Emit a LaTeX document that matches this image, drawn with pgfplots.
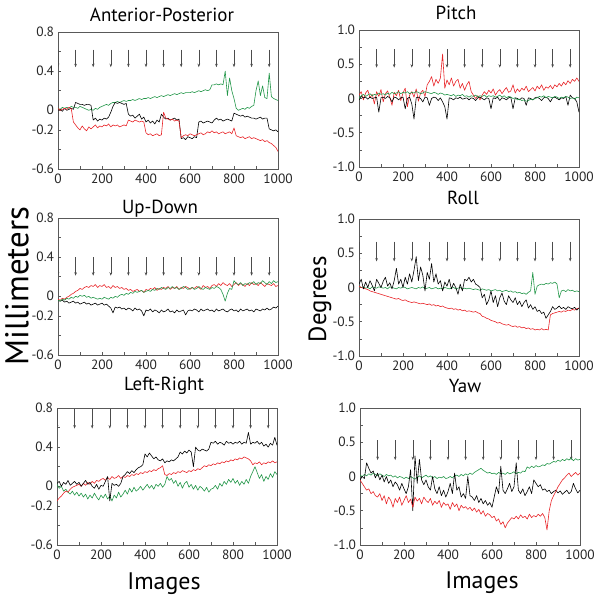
\documentclass[border=0pt]{standalone}
\usepackage{pgfplots}
\usepackage{pgfplotstable}
\pgfplotsset{compat=1.18}
\usepackage{fontspec}
\setmainfont{PT Sans}
\usetikzlibrary{arrows.meta}
\definecolor{cred}{RGB}{232,36,40}
\definecolor{cgreen}{RGB}{34,150,72}

% ---------- Anterior-Posterior ----------
\pgfplotstableread[row sep=\\]{y\\0.02\\0.01\\0.03\\0.02\\0.03\\0.02\\0.04\\0.03\\0.03\\0.02\\0.04\\0.03\\0.02\\0.01\\0.00\\0.01\\0.00\\0.02\\0.01\\0.03\\0.04\\0.05\\0.06\\0.05\\0.07\\0.08\\0.08\\0.09\\0.08\\0.09\\0.10\\0.09\\0.10\\0.10\\0.11\\0.10\\0.11\\0.12\\0.11\\0.12\\0.12\\0.13\\0.12\\0.13\\0.14\\0.13\\0.14\\0.15\\0.14\\0.15\\0.16\\0.15\\0.16\\0.17\\0.16\\0.17\\0.18\\0.17\\0.18\\0.18\\0.18\\0.19\\0.18\\0.19\\0.20\\0.19\\0.20\\0.21\\0.20\\0.21\\0.26\\0.26\\0.27\\0.26\\0.27\\0.26\\0.40\\0.15\\0.33\\0.20\\0.12\\0.02\\0.00\\0.01\\0.02\\0.01\\0.03\\0.02\\0.04\\0.05\\0.20\\0.30\\0.15\\0.25\\0.13\\0.12\\0.38\\0.14\\0.12\\0.11\\0.10\\}\APg
\pgfplotstableread[row sep=\\]{y\\0.00\\0.01\\-0.01\\0.02\\0.00\\0.01\\0.02\\0.01\\0.08\\0.07\\0.06\\0.06\\0.05\\0.06\\0.06\\0.05\\-0.10\\-0.08\\-0.11\\-0.09\\-0.10\\-0.08\\-0.09\\-0.07\\-0.02\\0.04\\0.08\\0.07\\0.08\\0.07\\0.06\\0.07\\-0.04\\-0.06\\-0.05\\-0.08\\-0.06\\-0.04\\-0.09\\-0.07\\-0.12\\-0.10\\-0.13\\-0.11\\-0.14\\-0.10\\-0.12\\-0.04\\-0.07\\-0.09\\-0.08\\-0.10\\-0.09\\-0.08\\-0.10\\-0.09\\-0.29\\-0.28\\-0.30\\-0.27\\-0.28\\-0.29\\-0.27\\-0.28\\-0.12\\-0.11\\-0.13\\-0.12\\-0.11\\-0.12\\-0.13\\-0.10\\-0.08\\-0.10\\-0.09\\-0.11\\-0.10\\-0.09\\-0.10\\-0.11\\-0.03\\-0.04\\-0.05\\-0.06\\-0.05\\-0.07\\-0.06\\-0.07\\-0.08\\-0.08\\-0.09\\-0.08\\-0.07\\-0.09\\-0.08\\-0.08\\-0.19\\-0.20\\-0.21\\-0.20\\-0.22\\}\APk
\pgfplotstableread[row sep=\\]{y\\0.02\\0.00\\0.01\\0.02\\0.01\\0.03\\0.02\\-0.12\\-0.15\\-0.18\\-0.20\\-0.16\\-0.19\\-0.21\\-0.17\\-0.19\\-0.17\\-0.15\\-0.18\\-0.16\\-0.17\\-0.15\\-0.16\\-0.14\\-0.17\\-0.15\\-0.16\\-0.15\\-0.17\\-0.16\\-0.15\\-0.16\\-0.10\\-0.11\\-0.12\\-0.10\\-0.11\\-0.12\\-0.11\\-0.12\\-0.23\\-0.25\\-0.24\\-0.26\\-0.25\\-0.24\\-0.26\\-0.25\\-0.02\\-0.08\\-0.09\\-0.10\\-0.09\\-0.11\\-0.10\\-0.11\\-0.28\\-0.26\\-0.25\\-0.26\\-0.24\\-0.25\\-0.26\\-0.25\\-0.24\\-0.23\\-0.25\\-0.24\\-0.22\\-0.23\\-0.21\\-0.23\\-0.22\\-0.24\\-0.23\\-0.22\\-0.24\\-0.23\\-0.22\\-0.24\\-0.18\\-0.26\\-0.27\\-0.28\\-0.27\\-0.29\\-0.28\\-0.27\\-0.29\\-0.28\\-0.29\\-0.30\\-0.31\\-0.30\\-0.32\\-0.31\\-0.33\\-0.34\\-0.36\\-0.38\\-0.42\\}\APr
% ---------- Pitch ----------
\pgfplotstableread[row sep=\\]{y\\0.00\\0.04\\0.06\\0.03\\0.05\\0.07\\0.04\\0.06\\0.05\\0.08\\0.06\\0.07\\0.05\\0.08\\0.06\\0.09\\0.07\\0.08\\0.10\\0.07\\0.09\\0.08\\0.10\\0.07\\0.09\\0.08\\0.10\\0.09\\0.07\\0.08\\0.10\\0.09\\0.08\\0.07\\0.09\\0.08\\0.06\\0.08\\0.07\\0.05\\0.06\\0.05\\0.04\\0.06\\0.03\\0.05\\0.04\\0.06\\0.03\\0.04\\0.02\\0.04\\0.03\\0.05\\0.02\\0.04\\0.03\\0.05\\0.02\\0.04\\0.03\\0.04\\0.02\\0.03\\0.05\\0.02\\0.04\\0.01\\0.03\\0.02\\0.00\\0.01\\-0.02\\-0.01\\-0.03\\-0.02\\-0.04\\-0.03\\-0.01\\-0.02\\0.00\\0.01\\0.03\\0.02\\0.04\\0.01\\0.03\\0.02\\0.01\\0.03\\0.02\\0.00\\0.02\\0.01\\0.03\\0.02\\0.00\\0.01\\-0.01\\0.02\\0.01\\}\PIg
\pgfplotstableread[row sep=\\]{y\\-0.02\\0.03\\0.01\\0.02\\-0.01\\0.02\\0.00\\0.01\\0.02\\-0.20\\0.01\\0.02\\0.00\\0.03\\0.01\\-0.05\\0.02\\0.01\\-0.02\\0.01\\0.02\\-0.15\\0.00\\0.02\\-0.08\\-0.30\\0.01\\0.02\\0.00\\-0.05\\0.02\\0.01\\-0.10\\0.00\\0.02\\0.01\\-0.03\\0.01\\-0.05\\-0.12\\-0.30\\0.01\\0.00\\-0.02\\0.01\\0.00\\0.02\\-0.01\\0.00\\0.01\\-0.02\\0.01\\0.00\\-0.03\\0.01\\0.02\\0.00\\-0.02\\0.01\\0.00\\-0.15\\0.01\\0.00\\0.02\\-0.03\\0.01\\0.00\\-0.02\\0.01\\0.02\\-0.15\\0.01\\0.00\\-0.02\\0.01\\0.00\\-0.10\\0.01\\0.00\\-0.02\\0.01\\0.02\\0.00\\-0.03\\0.01\\0.02\\0.00\\-0.05\\0.01\\0.02\\0.00\\-0.02\\0.01\\0.00\\0.03\\-0.10\\0.05\\0.01\\0.00\\-0.05\\-0.20\\}\PIk
\pgfplotstableread[row sep=\\]{y\\0.05\\0.10\\-0.02\\0.08\\0.12\\0.01\\0.06\\-0.08\\0.10\\0.03\\0.13\\-0.05\\0.07\\0.11\\0.02\\-0.10\\0.09\\0.04\\0.12\\-0.03\\0.08\\0.15\\-0.12\\0.05\\0.10\\0.02\\0.14\\-0.04\\0.08\\0.12\\0.03\\0.20\\0.25\\0.32\\0.18\\0.28\\0.22\\0.30\\0.65\\0.15\\0.27\\0.20\\0.30\\0.18\\0.25\\0.28\\0.15\\0.22\\0.12\\0.20\\0.25\\0.10\\0.05\\0.00\\0.04\\-0.02\\0.05\\0.10\\0.06\\0.12\\0.08\\0.14\\0.05\\0.10\\0.13\\0.07\\0.12\\0.16\\0.09\\0.11\\0.20\\0.08\\0.14\\0.10\\0.15\\0.12\\0.18\\0.10\\0.13\\0.16\\0.11\\0.18\\0.14\\0.20\\0.12\\0.17\\0.15\\0.19\\0.14\\0.20\\0.17\\0.22\\0.18\\0.24\\0.20\\0.26\\0.22\\0.28\\0.25\\0.30\\0.25\\}\PIr
% ---------- Up-Down ----------
\pgfplotstableread[row sep=\\]{y\\-0.03\\-0.04\\-0.02\\-0.03\\-0.01\\0.00\\0.02\\0.03\\0.05\\0.06\\0.08\\0.07\\0.09\\0.10\\0.09\\0.11\\0.10\\0.12\\0.09\\0.11\\0.10\\0.12\\0.09\\0.10\\0.08\\0.11\\0.09\\0.10\\0.08\\0.09\\0.07\\0.08\\0.06\\0.07\\0.05\\0.06\\0.07\\0.05\\0.06\\0.04\\0.07\\0.06\\0.08\\0.07\\0.09\\0.06\\0.08\\0.07\\0.09\\0.08\\0.10\\0.07\\0.09\\0.08\\0.10\\0.07\\0.09\\0.08\\0.10\\0.09\\0.07\\0.09\\0.08\\0.10\\0.09\\0.07\\0.11\\0.09\\0.10\\0.08\\0.11\\0.12\\0.10\\0.13\\0.11\\0.14\\0.12\\0.11\\0.13\\0.10\\0.12\\0.14\\0.11\\0.13\\0.12\\0.10\\0.13\\0.11\\0.14\\0.12\\0.13\\0.11\\0.14\\0.12\\0.10\\0.13\\0.12\\0.11\\0.13\\0.10\\0.11\\}\UDr
\pgfplotstableread[row sep=\\]{y\\-0.04\\-0.05\\-0.03\\-0.04\\-0.02\\-0.03\\-0.01\\-0.02\\0.00\\-0.01\\0.01\\0.00\\0.01\\-0.01\\0.00\\-0.02\\-0.01\\-0.02\\-0.03\\-0.02\\-0.03\\-0.01\\-0.02\\-0.03\\-0.01\\-0.02\\0.00\\-0.01\\0.01\\0.02\\0.01\\0.03\\0.02\\0.04\\0.03\\0.05\\0.04\\0.05\\0.06\\0.04\\0.05\\0.06\\0.05\\0.07\\0.06\\0.08\\0.07\\0.09\\0.08\\0.07\\0.09\\0.08\\0.10\\0.08\\0.09\\0.07\\0.08\\0.10\\0.09\\0.07\\0.08\\0.09\\0.07\\0.08\\0.10\\0.08\\0.07\\0.09\\0.08\\0.07\\0.09\\0.08\\0.10\\0.09\\0.07\\0.02\\-0.05\\0.03\\0.08\\0.07\\0.16\\0.13\\0.12\\0.14\\0.11\\0.13\\0.12\\0.14\\0.13\\0.15\\0.12\\0.14\\0.13\\0.16\\0.14\\0.12\\0.15\\0.13\\0.16\\0.14\\0.15\\}\UDg
\pgfplotstableread[row sep=\\]{y\\-0.04\\-0.05\\-0.04\\-0.06\\-0.05\\-0.07\\-0.06\\-0.05\\-0.07\\-0.06\\-0.08\\-0.07\\-0.06\\-0.08\\-0.07\\-0.09\\-0.08\\-0.07\\-0.09\\-0.08\\-0.07\\-0.09\\-0.08\\-0.10\\-0.12\\-0.17\\-0.11\\-0.12\\-0.11\\-0.13\\-0.12\\-0.14\\-0.12\\-0.13\\-0.15\\-0.12\\-0.14\\-0.13\\-0.15\\-0.20\\-0.14\\-0.15\\-0.13\\-0.16\\-0.14\\-0.15\\-0.17\\-0.14\\-0.16\\-0.15\\-0.13\\-0.16\\-0.15\\-0.17\\-0.14\\-0.16\\-0.15\\-0.14\\-0.19\\-0.15\\-0.14\\-0.15\\-0.13\\-0.14\\-0.16\\-0.13\\-0.15\\-0.14\\-0.13\\-0.15\\-0.14\\-0.16\\-0.13\\-0.15\\-0.14\\-0.13\\-0.15\\-0.16\\-0.14\\-0.13\\-0.15\\-0.14\\-0.16\\-0.13\\-0.15\\-0.14\\-0.13\\-0.15\\-0.14\\-0.16\\-0.13\\-0.14\\-0.15\\-0.13\\-0.14\\-0.12\\-0.14\\-0.13\\-0.11\\-0.12\\-0.10\\}\UDk
% ---------- Roll ----------
\pgfplotstableread[row sep=\\]{y\\0.02\\0.00\\0.01\\-0.01\\0.00\\-0.02\\0.01\\0.00\\-0.01\\0.01\\0.00\\-0.01\\0.00\\-0.02\\0.01\\0.00\\-0.01\\-0.02\\0.00\\-0.01\\0.01\\0.00\\-0.02\\-0.01\\0.00\\-0.01\\-0.02\\0.00\\-0.01\\0.01\\-0.02\\-0.01\\0.00\\-0.02\\-0.01\\0.00\\-0.02\\-0.01\\-0.02\\0.00\\-0.01\\-0.02\\-0.01\\0.00\\-0.02\\-0.01\\0.00\\-0.02\\-0.01\\-0.02\\-0.01\\-0.02\\-0.03\\-0.02\\-0.03\\-0.04\\-0.02\\-0.03\\-0.04\\-0.03\\-0.05\\-0.04\\-0.03\\-0.05\\-0.04\\-0.06\\-0.05\\-0.04\\-0.06\\-0.05\\-0.07\\-0.06\\-0.08\\-0.07\\-0.09\\-0.08\\-0.10\\-0.07\\-0.05\\0.22\\-0.10\\0.02\\0.04\\0.05\\0.04\\0.06\\0.05\\0.07\\0.06\\0.08\\0.05\\-0.15\\-0.05\\-0.04\\-0.06\\-0.03\\-0.05\\-0.04\\-0.06\\-0.05\\-0.06\\}\ROg
\pgfplotstableread[row sep=\\]{y\\0.02\\0.00\\-0.01\\-0.02\\-0.03\\-0.05\\-0.06\\-0.07\\-0.08\\-0.09\\-0.10\\-0.11\\-0.12\\-0.13\\-0.14\\-0.15\\-0.16\\-0.17\\-0.16\\-0.18\\-0.19\\-0.18\\-0.20\\-0.21\\-0.22\\-0.21\\-0.22\\-0.23\\-0.24\\-0.23\\-0.24\\-0.25\\-0.24\\-0.26\\-0.25\\-0.27\\-0.26\\-0.28\\-0.27\\-0.29\\-0.30\\-0.31\\-0.30\\-0.32\\-0.31\\-0.33\\-0.32\\-0.34\\-0.33\\-0.35\\-0.34\\-0.35\\-0.36\\-0.35\\-0.37\\-0.38\\-0.42\\-0.43\\-0.45\\-0.46\\-0.48\\-0.49\\-0.50\\-0.52\\-0.51\\-0.53\\-0.54\\-0.55\\-0.54\\-0.56\\-0.57\\-0.56\\-0.58\\-0.57\\-0.59\\-0.58\\-0.60\\-0.59\\-0.61\\-0.60\\-0.62\\-0.61\\-0.62\\-0.60\\-0.62\\-0.61\\-0.62\\-0.40\\-0.38\\-0.37\\-0.36\\-0.35\\-0.36\\-0.34\\-0.35\\-0.33\\-0.34\\-0.32\\-0.33\\-0.31\\-0.30\\}\ROr
\pgfplotstableread[row sep=\\]{y\\0.05\\0.12\\-0.02\\0.08\\0.00\\0.10\\0.03\\-0.05\\0.12\\0.06\\0.00\\0.09\\0.15\\0.02\\0.07\\-0.02\\0.10\\0.28\\0.05\\0.12\\0.00\\0.15\\0.05\\0.20\\0.08\\0.25\\0.45\\0.10\\0.30\\0.18\\-0.05\\0.22\\0.12\\0.35\\0.08\\0.20\\0.05\\0.10\\-0.05\\0.08\\0.02\\0.12\\-0.02\\0.06\\0.00\\-0.10\\0.05\\-0.05\\0.12\\0.10\\0.15\\0.08\\0.12\\0.05\\0.03\\0.00\\-0.15\\-0.10\\-0.25\\-0.18\\-0.05\\-0.22\\-0.12\\-0.28\\-0.15\\-0.08\\-0.20\\-0.25\\-0.12\\-0.18\\-0.22\\-0.15\\-0.25\\-0.20\\-0.28\\-0.22\\-0.18\\-0.30\\-0.25\\-0.32\\-0.28\\-0.35\\-0.33\\-0.38\\-0.36\\-0.45\\-0.40\\-0.35\\-0.28\\-0.32\\-0.30\\-0.27\\-0.31\\-0.29\\-0.32\\-0.28\\-0.30\\-0.31\\-0.29\\-0.33\\-0.30\\}\ROk
% ---------- Left-Right ----------
\pgfplotstableread[row sep=\\]{y\\0.03\\0.05\\0.00\\0.04\\0.02\\0.06\\0.01\\0.03\\0.05\\0.02\\0.04\\0.00\\0.03\\0.06\\0.02\\0.04\\0.00\\-0.02\\0.02\\-0.03\\0.01\\0.00\\0.05\\0.10\\-0.15\\0.03\\0.01\\0.02\\0.00\\0.03\\0.10\\0.12\\0.15\\0.13\\0.16\\0.14\\0.17\\0.19\\0.20\\0.22\\0.33\\0.30\\0.34\\0.31\\0.28\\0.30\\0.27\\0.26\\0.28\\0.24\\0.26\\0.25\\0.27\\0.26\\0.28\\0.30\\0.35\\0.33\\0.36\\0.34\\0.37\\0.35\\0.20\\0.40\\0.37\\0.36\\0.38\\0.37\\0.36\\0.38\\0.45\\0.44\\0.46\\0.43\\0.45\\0.44\\0.42\\0.46\\0.44\\0.45\\0.43\\0.45\\0.44\\0.46\\0.43\\0.45\\0.44\\0.55\\0.43\\0.45\\0.44\\0.46\\0.43\\0.45\\0.41\\0.43\\0.40\\0.44\\0.42\\0.50\\0.42\\}\LRk
\pgfplotstableread[row sep=\\]{y\\-0.15\\-0.12\\-0.10\\-0.07\\-0.05\\-0.06\\-0.03\\-0.01\\0.00\\0.01\\0.02\\0.00\\0.03\\0.01\\0.04\\0.02\\0.05\\0.03\\0.06\\0.05\\0.07\\0.08\\0.06\\0.09\\0.07\\0.10\\0.08\\0.09\\0.11\\0.08\\0.10\\0.09\\0.11\\0.10\\0.12\\0.11\\0.13\\0.12\\0.14\\0.13\\0.15\\0.14\\0.16\\0.15\\0.17\\0.16\\0.18\\0.19\\0.21\\0.12\\0.11\\0.13\\0.12\\0.14\\0.13\\0.15\\0.14\\0.16\\0.15\\0.14\\0.16\\0.15\\0.17\\0.16\\0.18\\0.17\\0.19\\0.21\\0.20\\0.22\\0.21\\0.23\\0.22\\0.24\\0.23\\0.25\\0.24\\0.26\\0.25\\0.27\\0.26\\0.28\\0.27\\0.29\\0.28\\0.30\\0.29\\0.28\\0.26\\0.22\\0.24\\0.23\\0.25\\0.22\\0.24\\0.23\\0.25\\0.24\\0.26\\0.24\\0.25\\}\LRr
\pgfplotstableread[row sep=\\]{y\\0.02\\-0.02\\0.00\\-0.05\\-0.03\\-0.06\\-0.08\\-0.05\\-0.09\\-0.06\\-0.10\\-0.07\\-0.11\\-0.08\\-0.13\\-0.09\\-0.12\\-0.07\\-0.11\\-0.14\\-0.09\\-0.12\\-0.08\\-0.13\\-0.10\\-0.15\\-0.09\\-0.12\\-0.06\\-0.11\\-0.08\\-0.04\\-0.08\\-0.02\\-0.06\\-0.01\\-0.05\\-0.03\\0.00\\-0.04\\-0.01\\0.02\\-0.02\\0.01\\-0.03\\0.02\\0.00\\0.03\\-0.01\\0.02\\0.10\\0.06\\0.08\\0.03\\0.06\\0.00\\0.04\\-0.02\\0.03\\0.05\\-0.01\\0.02\\-0.03\\0.01\\-0.04\\0.00\\-0.02\\-0.05\\-0.01\\-0.06\\-0.03\\-0.02\\0.01\\-0.03\\0.03\\0.00\\0.05\\0.02\\0.07\\0.04\\0.08\\0.03\\0.06\\0.01\\0.05\\0.02\\0.07\\0.03\\0.10\\0.15\\0.20\\0.14\\0.08\\0.12\\0.05\\0.10\\0.07\\0.13\\0.09\\0.15\\0.12\\}\LRg
% ---------- Yaw ----------
\pgfplotstableread[row sep=\\]{y\\0.02\\0.00\\0.03\\0.01\\0.04\\0.02\\0.05\\0.03\\0.01\\0.04\\0.02\\0.00\\0.03\\0.01\\0.02\\-0.01\\0.01\\-0.02\\0.00\\-0.01\\-0.03\\-0.01\\-0.03\\0.00\\-0.02\\-0.04\\-0.01\\0.01\\-0.02\\0.00\\0.02\\-0.01\\0.01\\-0.02\\0.00\\-0.03\\-0.01\\-0.02\\0.00\\-0.03\\-0.02\\0.00\\-0.02\\0.01\\0.02\\0.00\\0.03\\0.01\\0.04\\0.02\\0.05\\0.03\\0.06\\0.08\\0.10\\0.12\\0.09\\0.07\\0.05\\0.06\\0.04\\0.05\\0.03\\0.06\\0.04\\0.05\\0.03\\0.06\\0.04\\0.05\\0.07\\0.04\\0.06\\0.05\\0.08\\0.07\\0.14\\0.12\\0.15\\0.13\\0.16\\0.14\\0.15\\0.17\\0.16\\0.19\\0.18\\0.20\\0.22\\0.21\\0.24\\0.22\\0.25\\0.23\\0.26\\0.24\\0.27\\0.23\\0.26\\0.24\\0.25\\}\YAg
\pgfplotstableread[row sep=\\]{y\\-0.05\\0.00\\-0.03\\0.20\\0.12\\0.05\\0.08\\-0.02\\0.05\\-0.05\\0.02\\-0.08\\0.00\\-0.10\\-0.05\\-0.15\\-0.08\\-0.12\\-0.20\\-0.10\\-0.18\\-0.25\\-0.15\\0.10\\-0.50\\0.30\\-0.10\\0.25\\-0.05\\-0.12\\-0.05\\-0.15\\-0.20\\0.00\\-0.18\\-0.25\\-0.15\\-0.28\\-0.20\\-0.30\\-0.22\\-0.10\\-0.25\\0.05\\-0.20\\-0.15\\-0.30\\-0.25\\-0.32\\0.00\\-0.28\\-0.30\\-0.35\\-0.28\\-0.38\\-0.32\\-0.40\\-0.35\\-0.42\\-0.38\\-0.45\\-0.30\\-0.15\\-0.25\\0.15\\-0.20\\-0.25\\-0.18\\-0.10\\-0.22\\-0.15\\0.20\\-0.20\\-0.25\\-0.18\\-0.28\\-0.22\\-0.15\\-0.25\\-0.05\\-0.10\\-0.15\\-0.12\\-0.20\\-0.18\\-0.22\\-0.20\\-0.25\\-0.22\\-0.20\\-0.24\\-0.21\\-0.26\\-0.23\\-0.20\\-0.25\\-0.22\\-0.10\\-0.18\\-0.24\\-0.20\\}\YAk
\pgfplotstableread[row sep=\\]{y\\-0.05\\-0.10\\-0.15\\-0.20\\-0.18\\-0.25\\-0.22\\-0.28\\-0.30\\-0.25\\-0.35\\-0.28\\-0.40\\-0.30\\-0.35\\-0.45\\-0.32\\-0.38\\-0.30\\-0.42\\-0.35\\-0.28\\-0.38\\-0.33\\-0.45\\-0.30\\-0.36\\-0.32\\-0.40\\-0.30\\-0.35\\-0.38\\-0.32\\-0.42\\-0.36\\-0.40\\-0.35\\-0.45\\-0.38\\-0.42\\-0.40\\-0.48\\-0.38\\-0.44\\-0.40\\-0.50\\-0.42\\-0.46\\-0.44\\-0.48\\-0.45\\-0.50\\-0.46\\-0.52\\-0.48\\-0.55\\-0.50\\-0.58\\-0.54\\-0.56\\-0.60\\-0.58\\-0.65\\-0.62\\-0.70\\-0.66\\-0.75\\-0.68\\-0.64\\-0.60\\-0.62\\-0.58\\-0.62\\-0.56\\-0.60\\-0.58\\-0.62\\-0.55\\-0.60\\-0.57\\-0.59\\-0.55\\-0.58\\-0.54\\-0.60\\-0.78\\-0.50\\-0.35\\-0.28\\-0.22\\-0.15\\-0.10\\-0.05\\-0.02\\0.02\\0.05\\0.00\\0.03\\0.06\\0.02\\0.05\\}\YAr

\pgfplotsset{
  panel/.style={
    scale only axis, width=220bp, height=137bp, anchor=south west,
    xmin=0, xmax=1000,
    xtick={0,200,400,600,800,1000}, xticklabels={0,200,400,600,800,1000},
    minor xtick={100,300,500,700,900},
    tick align=inside, xtick pos=bottom, ytick pos=left,
    major tick length=3bp, minor tick length=3bp,
    axis line style={black!65, line width=0.7bp},
    tick style={black!65, line width=0.5bp},
    tick label style={font=\fontsize{13.5}{14}\selectfont, text=black!85},
    xticklabel style={yshift=-1bp},
    yticklabel style={xshift=-0.5bp},
    every axis plot/.append style={line width=0.6bp, line join=round},
  },
  mm/.style={panel, ymin=-0.6, ymax=0.8,
    ytick={-0.6,-0.4,-0.2,0,0.2,0.4,0.6,0.8},
    yticklabels={-0.6,,-0.2,0,,0.4,,0.8}},
  deg/.style={panel, ymin=-1, ymax=1,
    ytick={-1,-0.5,0,0.5,1}, yticklabels={-1.0,-0.5,0,0.5,1.0},
    minor ytick={-0.75,-0.25,0.25,0.75}},
  arr/.style={black!70, line width=0.5bp, -{Stealth[length=3.5bp,width=2.6bp]}},
}

\newcommand{\ttl}{\fontsize{19}{20}\selectfont}

\begin{document}
\begin{tikzpicture}
\useasboundingbox (0,0) rectangle (598bp,600bp);

% Anterior-Posterior
\begin{axis}[mm, at={(58bp,431bp)}]
\addplot[arr, quiver={u=0,v=-0.18}] table[row sep=\\]{x y\\0 0.62\\80 0.62\\160 0.62\\240 0.62\\320 0.62\\400 0.62\\480 0.62\\560 0.62\\640 0.62\\720 0.62\\800 0.62\\880 0.62\\960 0.62\\};
\addplot[cgreen] table[x expr=\coordindex*10, y=y]{\APg};
\addplot[black] table[x expr=\coordindex*10, y=y]{\APk};
\addplot[cred] table[x expr=\coordindex*10, y=y]{\APr};
\end{axis}

% Pitch
\begin{axis}[deg, at={(359bp,433bp)}]
\addplot[arr, quiver={u=0,v=-0.27}] table[row sep=\\]{x y\\0 0.72\\80 0.72\\160 0.72\\240 0.72\\320 0.72\\400 0.72\\480 0.72\\560 0.72\\640 0.72\\720 0.72\\800 0.72\\880 0.72\\960 0.72\\};
\addplot[cred] table[x expr=\coordindex*10, y=y]{\PIr};
\addplot[black] table[x expr=\coordindex*10, y=y]{\PIk};
\addplot[cgreen] table[x expr=\coordindex*10, y=y]{\PIg};
\end{axis}

% Up-Down
\begin{axis}[mm, at={(58bp,245bp)}]
\addplot[arr, quiver={u=0,v=-0.19}] table[row sep=\\]{x y\\0 0.40\\80 0.40\\160 0.40\\240 0.40\\320 0.40\\400 0.40\\480 0.40\\560 0.40\\640 0.40\\720 0.40\\800 0.40\\880 0.40\\960 0.40\\};
\addplot[black] table[x expr=\coordindex*10, y=y]{\UDk};
\addplot[cred] table[x expr=\coordindex*10, y=y]{\UDr};
\addplot[cgreen] table[x expr=\coordindex*10, y=y]{\UDg};
\end{axis}

% Roll
\begin{axis}[deg, at={(359bp,244bp)}]
\addplot[arr, quiver={u=0,v=-0.29}] table[row sep=\\]{x y\\0 0.67\\80 0.67\\160 0.67\\240 0.67\\320 0.67\\400 0.67\\480 0.67\\560 0.67\\640 0.67\\720 0.67\\800 0.67\\880 0.67\\960 0.67\\};
\addplot[cgreen] table[x expr=\coordindex*10, y=y]{\ROg};
\addplot[cred] table[x expr=\coordindex*10, y=y]{\ROr};
\addplot[black] table[x expr=\coordindex*10, y=y]{\ROk};
\end{axis}

% Left-Right
\begin{axis}[mm, at={(57bp,55bp)}]
\addplot[arr, quiver={u=0,v=-0.2}] table[row sep=\\]{x y\\0 0.79\\80 0.79\\160 0.79\\240 0.79\\320 0.79\\400 0.79\\480 0.79\\560 0.79\\640 0.79\\720 0.79\\800 0.79\\880 0.79\\960 0.79\\};
\addplot[cgreen] table[x expr=\coordindex*10, y=y]{\LRg};
\addplot[cred] table[x expr=\coordindex*10, y=y]{\LRr};
\addplot[black] table[x expr=\coordindex*10, y=y]{\LRk};
\end{axis}

% Yaw
\begin{axis}[deg, at={(360bp,55bp)}]
\addplot[arr, quiver={u=0,v=-0.29}] table[row sep=\\]{x y\\0 0.53\\80 0.53\\160 0.53\\240 0.53\\320 0.53\\400 0.53\\480 0.53\\560 0.53\\640 0.53\\720 0.53\\800 0.53\\880 0.53\\960 0.53\\};
\addplot[cgreen] table[x expr=\coordindex*10, y=y]{\YAg};
\addplot[black] table[x expr=\coordindex*10, y=y]{\YAk};
\addplot[cred] table[x expr=\coordindex*10, y=y]{\YAr};
\end{axis}

% titles and labels
\node[font=\ttl] at (162bp,585bp) {Anterior-Posterior};
\node[font=\ttl] at (456bp,587bp) {Pitch};
\node[font=\ttl] at (160bp,391bp) {Up-Down};
\node[font=\ttl] at (463bp,402bp) {Roll};
\node[font=\ttl] at (164bp,214bp) {Left-Right};
\node[font=\ttl] at (465bp,214bp) {Yaw};
\node[font=\fontsize{33}{34}\selectfont, rotate=90] at (17bp,314bp) {Millimeters};
\node[font=\fontsize{25}{26}\selectfont, rotate=90] at (320bp,301bp) {Degrees};
\node[font=\fontsize{24}{25}\selectfont] at (164bp,16bp) {Images};
\node[font=\fontsize{24}{25}\selectfont] at (482bp,17bp) {Images};
\end{tikzpicture}
\end{document}
